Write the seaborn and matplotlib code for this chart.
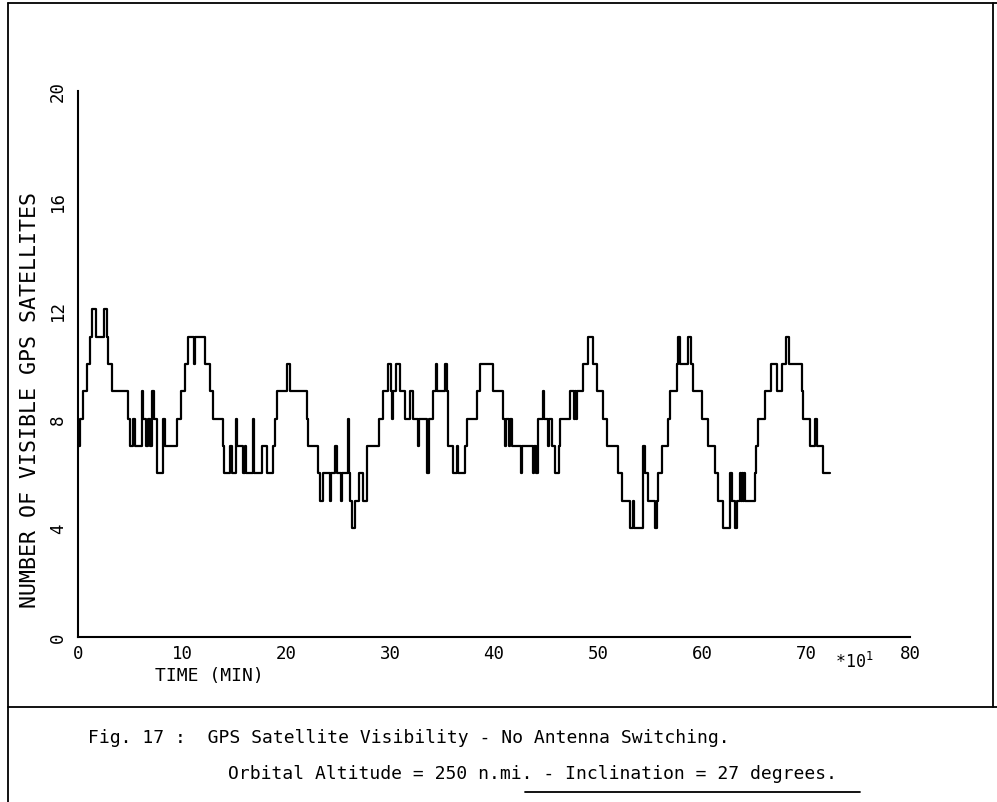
import matplotlib
matplotlib.use("Agg")
import matplotlib.pyplot as plt
import seaborn as sns
import pandas as pd
from matplotlib.lines import Line2D

# ---- data: step changes (time in units of 10 min, number of visible satellites)
times = [0.00, 0.19, 0.48, 0.87, 1.15, 1.35, 1.73, 2.50, 2.79, 2.88, 3.27, 4.81,
         5.00, 5.29, 5.48, 6.15, 6.25, 6.54, 6.73, 6.92, 7.12, 7.31, 7.60, 8.17,
         8.37, 9.52, 9.90, 10.29, 10.58, 11.15, 11.25, 12.21, 12.69, 12.98, 13.94, 14.04,
         14.62, 14.81, 15.19, 15.29, 15.87, 16.06, 16.15, 16.83, 16.92, 17.69, 18.17, 18.75,
         18.94, 19.13, 20.10, 20.38, 22.02, 22.10, 23.08, 23.27, 23.56, 24.23, 24.33, 24.71,
         24.90, 25.29, 25.38, 25.96, 26.06, 26.15, 26.35, 26.63, 27.02, 27.40, 27.79, 28.94,
         29.33, 29.81, 30.10, 30.19, 30.29, 30.58, 30.96, 31.44, 31.92, 32.21, 32.69, 32.79,
         33.56, 33.75, 34.13, 34.42, 34.52, 35.29, 35.48, 35.58, 36.06, 36.44, 36.54, 37.21,
         37.40, 38.37, 38.65, 39.90, 40.87, 41.06, 41.15, 41.44, 41.54, 41.73, 42.60, 42.69,
         43.75, 43.85, 44.04, 44.23, 44.71, 44.81, 45.19, 45.29, 45.58, 45.87, 46.25, 46.35,
         47.31, 47.69, 47.79, 47.88, 47.98, 48.56, 49.04, 49.52, 49.90, 50.48, 50.87, 51.92,
         52.31, 53.08, 53.37, 53.46, 54.33, 54.52, 54.81, 55.48, 55.67, 55.77, 56.15, 56.73,
         56.92, 57.60, 57.69, 57.88, 58.65, 58.94, 59.13, 60.00, 60.58, 61.25, 61.54, 62.02,
         62.69, 62.88, 63.17, 63.37, 63.65, 63.75, 63.85, 63.94, 64.04, 64.13, 65.10, 65.19,
         65.38, 66.06, 66.63, 67.21, 67.69, 68.08, 68.37, 69.62, 69.71, 70.38, 70.87, 71.06,
         71.63, 72.31]
satellites = [7, 8, 9, 10, 11, 12, 11, 12, 11, 10, 9, 8,
              7, 8, 7, 9, 8, 7, 8, 7, 9, 8, 6, 8,
              7, 8, 9, 10, 11, 10, 11, 10, 9, 8, 7, 6,
              7, 6, 8, 7, 6, 7, 6, 8, 6, 7, 6, 7,
              8, 9, 10, 9, 8, 7, 6, 5, 6, 5, 6, 7,
              6, 5, 6, 8, 6, 5, 4, 5, 6, 5, 7, 8,
              9, 10, 9, 8, 9, 10, 9, 8, 9, 8, 7, 8,
              6, 8, 9, 10, 9, 10, 9, 7, 6, 7, 6, 7,
              8, 9, 10, 9, 8, 7, 8, 7, 8, 7, 6, 7,
              6, 7, 6, 8, 9, 8, 7, 8, 7, 6, 7, 8,
              9, 8, 9, 8, 9, 10, 11, 10, 9, 8, 7, 6,
              5, 4, 5, 4, 7, 6, 5, 4, 5, 6, 7, 8,
              9, 10, 11, 10, 11, 10, 9, 8, 7, 6, 5, 4,
              6, 5, 4, 5, 6, 5, 6, 5, 6, 5, 6, 7,
              8, 9, 10, 9, 10, 11, 10, 9, 8, 7, 8, 7,
              6, 6]

x_ticks = [0, 10, 20, 30, 40, 50, 60, 70, 80]
y_ticks = [0, 4, 8, 12, 16, 20]

title_line1 = "Fig. 17 :  GPS Satellite Visibility - No Antenna Switching."
title_line2 = "Orbital Altitude = 250 n.mi. - Inclination = 27 degrees."

df = pd.DataFrame({"t": times, "n": satellites})

sns.set_style("white")
plt.rcParams["font.family"] = ["DejaVu Sans Mono", "DejaVu Sans"]
plt.rcParams["text.color"] = "black"

W, H = 997, 803
fig = plt.figure(figsize=(W / 100, H / 100), dpi=100)
ax = fig.add_axes([78 / W, 1 - 638 / H, 832 / W, 546 / H])

sns.lineplot(data=df, x="t", y="n", ax=ax, drawstyle="steps-post",
             estimator=None, sort=False, color="black", linewidth=1.6)

ax.set_xlim(0, 80)
ax.set_ylim(0, 20)
ax.set_xticks(x_ticks)
ax.set_yticks(y_ticks)
ax.set_xticklabels([str(v) for v in x_ticks], fontsize=12.5)
ax.set_yticklabels([str(v) for v in y_ticks], fontsize=12.5, rotation=90, va="center")
ax.tick_params(axis="x", direction="in", length=5, width=1.2, pad=5,
               colors="black", labelcolor="black")
ax.tick_params(axis="y", direction="out", length=5, width=1.2, pad=3,
               colors="black", labelcolor="black")
ax.set_xlabel("")
ax.set_ylabel("")
sns.despine(ax=ax)
for s in ("left", "bottom"):
    ax.spines[s].set_linewidth(1.5)
    ax.spines[s].set_color("black")

fig.text(155 / W, 1 - 676 / H, "TIME (MIN)", fontsize=13, ha="left", va="center")
fig.text(30 / W, 1 - 400 / H, "NUMBER OF VISIBLE GPS SATELLITES", fontsize=15.5,
         rotation=90, ha="center", va="center")
fig.text(835 / W, 1 - 662 / H, r"*10$^{1}$", fontsize=12, ha="left", va="center")

fig.text(88 / W, 1 - 738 / H, title_line1, fontsize=13, ha="left", va="center")
fig.text(228 / W, 1 - 774 / H, title_line2, fontsize=13, ha="left", va="center")

# page frame lines
def fline(x0, y0, x1, y1, lw=1.3):
    fig.add_artist(Line2D([x0 / W, x1 / W], [1 - y0 / H, 1 - y1 / H],
                          color="black", linewidth=lw, transform=fig.transFigure))

fline(8, 4, 997, 4)
fline(8, 4, 8, 803)
fline(993, 4, 993, 708)
fline(8, 708, 997, 708)
fline(525, 793, 860, 793)

fig.savefig("out.png", dpi=100)
